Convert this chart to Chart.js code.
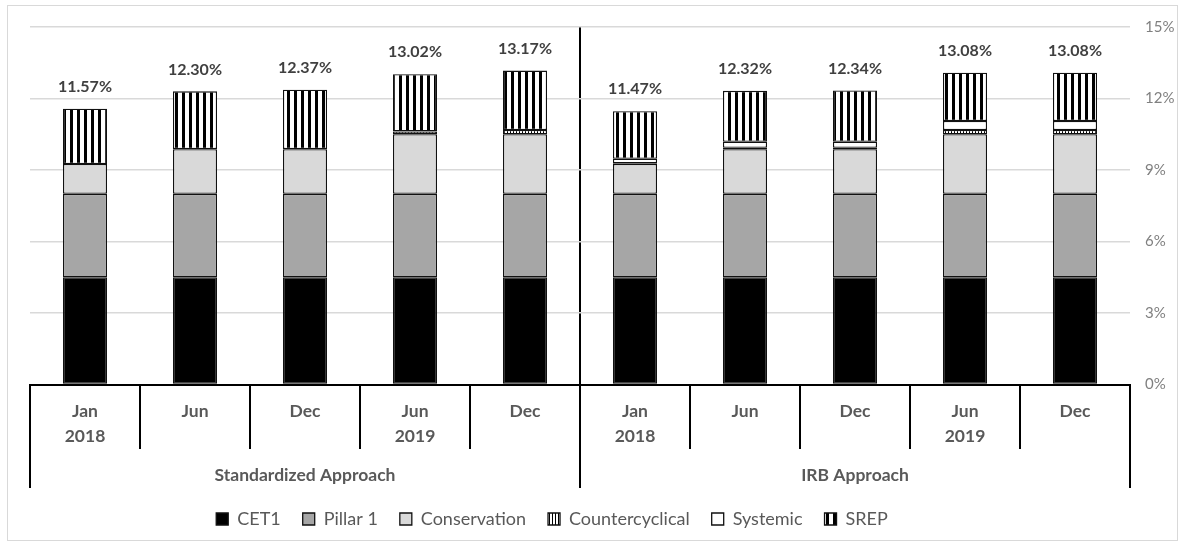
<!DOCTYPE html>
<html>
<head>
<meta charset="utf-8">
<title>Capital requirements</title>
<script src="https://cdn.jsdelivr.net/npm/chart.js@4.4.1/dist/chart.umd.min.js"></script>
<style>
  html, body { margin: 0; padding: 0; background: #ffffff; }
  #wrap { position: relative; width: 1184px; height: 545px; }
  #frame { position: absolute; left: 7px; top: 5px; width: 1169px; height: 534px;
           border: 1px solid #d9d9d9; pointer-events: none; }
</style>
</head>
<body>
<div id="wrap">
  <canvas id="c" width="1184" height="545"></canvas>
  <div id="frame"></div>
</div>
<script>
// Periods, repeated for each approach
const categories = [
  ["Jan", "2018"], ["Jun"], ["Dec"], ["Jun", "2019"], ["Dec"],
  ["Jan", "2018"], ["Jun"], ["Dec"], ["Jun", "2019"], ["Dec"]
];
const approaches = ["Standardized Approach", "IRB Approach"];

// Requirement components, % of RWA (first five: Standardized, last five: IRB)
const cet1            = [4.5, 4.5, 4.5, 4.5, 4.5, 4.5, 4.5, 4.5, 4.5, 4.5];
const pillar1         = [3.5, 3.5, 3.5, 3.5, 3.5, 3.5, 3.5, 3.5, 3.5, 3.5];
const conservation    = [1.25, 1.875, 1.875, 2.5, 2.5, 1.25, 1.875, 1.875, 2.5, 2.5];
const countercyclical = [0, 0, 0, 0.12, 0.18, 0.03, 0.06, 0.06, 0.18, 0.18];
const systemic        = [0, 0, 0, 0, 0, 0.19, 0.25, 0.25, 0.375, 0.375];
const srep            = [2.32, 2.425, 2.495, 2.40, 2.49, 2.00, 2.135, 2.155, 2.025, 2.025];

const yTicks = [0, 3, 6, 9, 12, 15];

const canvas = document.getElementById('c');
const ctx2d = canvas.getContext('2d');

// Vertical black/white stripe fill
function stripePattern(period, dark) {
  const tile = document.createElement('canvas');
  tile.width = period; tile.height = 1;
  const t = tile.getContext('2d');
  t.fillStyle = '#ffffff'; t.fillRect(0, 0, period, 1);
  t.fillStyle = '#000000'; t.fillRect(0, 0, dark, 1);
  return ctx2d.createPattern(tile, 'repeat');
}

Chart.defaults.font.family = "Lato, 'Open Sans', sans-serif";

const edge = '#000000';
function series(label, data, fill) {
  return {
    label, data, backgroundColor: fill,
    borderColor: '#111111', borderWidth: 1.3, borderSkipped: false,
    categoryPercentage: 1.0, barPercentage: 0.4
  };
}

// Totals printed above each stacked column
const totalLabels = {
  id: 'totalLabels',
  afterDatasetsDraw(chart) {
    const { ctx, scales: { y } } = chart;
    const metas = chart.getSortedVisibleDatasetMetas();
    const topMeta = metas[metas.length - 1];
    ctx.save();
    ctx.font = "bold 16px Lato, 'Open Sans', sans-serif";
    ctx.fillStyle = '#404040';
    ctx.textAlign = 'center';
    ctx.textBaseline = 'middle';
    categories.forEach((_, i) => {
      const total = chart.data.datasets.reduce((s, d) => s + d.data[i], 0);
      ctx.fillText(total.toFixed(2) + '%', topMeta.data[i].x, y.getPixelForValue(total) - 22);
    });
    ctx.restore();
  }
};

// Centre the legend row under the plot
const legendCentre = {
  id: 'legendCentre',
  afterLayout(chart) {
    const lg = chart.legend;
    const half = (lg.right - lg.left) / 2;
    lg.left = 552 - half;
    lg.right = 552 + half;
  }
};

new Chart(canvas, {
  type: 'bar',
  data: {
    labels: categories,
    datasets: [
      series('CET1', cet1, '#000000'),
      series('Pillar 1', pillar1, '#a6a6a6'),
      series('Conservation', conservation, '#d9d9d9'),
      series('Countercyclical', countercyclical, stripePattern(3, 1)),
      series('Systemic', systemic, '#ffffff'),
      series('SREP', srep, stripePattern(7, 3))
    ]
  },
  options: {
    responsive: false,
    animation: false,
    devicePixelRatio: 1,
    layout: { padding: { left: 30, top: 27, right: 0, bottom: 7 } },
    plugins: {
      tooltip: { enabled: false },
      legend: {
        position: 'bottom',
        labels: {
          color: '#595959',
          font: { size: 18 },
          boxWidth: 12, boxHeight: 12,
          padding: 22
        }
      }
    },
    scales: {
      x: {
        stacked: true,
        offset: true,
        grid: { offset: true, drawOnChartArea: false, tickLength: 64.5, color: edge, lineWidth: 2 },
        border: { display: true, color: edge, width: 2 },
        ticks: {
          color: '#595959',
          font: { size: 17.5, weight: 'bold', lineHeight: 25 / 17.5 },
          padding: -50, maxRotation: 0, autoSkip: false
        },
        afterFit(s) { s.height = 64.5; }
      },
      x2: {
        type: 'category',
        labels: approaches,
        position: 'bottom',
        offset: true,
        grid: {
          offset: true, drawOnChartArea: true, tickLength: 39,
          color: c => (c.index === 1 ? edge : 'rgba(0,0,0,0)'),
          tickColor: edge, lineWidth: 2
        },
        border: { display: false },
        ticks: {
          color: '#595959',
          font: { size: 17.5, weight: 'bold', lineHeight: 1.2 },
          padding: -23.5, maxRotation: 0, autoSkip: false
        },
        afterFit(s) { s.height = 39; }
      },
      y: {
        stacked: true,
        position: 'right',
        min: yTicks[0],
        max: yTicks[yTicks.length - 1],
        afterBuildTicks(s) { s.ticks = yTicks.map(v => ({ value: v })); },
        ticks: { callback: v => v + '%', color: '#808080', font: { size: 15 }, padding: 15 },
        grid: { color: '#d9d9d9', lineWidth: 1.5, drawTicks: false },
        border: { display: false },
        afterFit(s) { s.width = 54; }
      }
    }
  },
  plugins: [totalLabels, legendCentre]
});
</script>
</body>
</html>
